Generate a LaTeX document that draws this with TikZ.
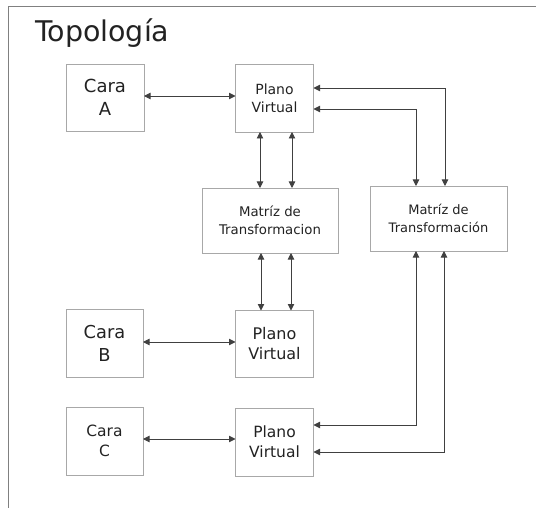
\documentclass[tikz,border=0pt]{standalone}
\usepackage{fontspec}
\setmainfont{DejaVu Sans}
\usetikzlibrary{arrows.meta}
\definecolor{boxgray}{HTML}{A8A8A8}
\definecolor{framegray}{HTML}{808080}
\definecolor{linkgray}{HTML}{404040}
\definecolor{textgray}{HTML}{222222}
\begin{document}
\begin{tikzpicture}[x=1pt,y=-1pt,inner sep=0pt,outer sep=0pt,
blockbox/.style={draw=boxgray,rectangle,line width=0.9pt,align=center,text=textgray},
link/.style={draw=linkgray,line width=0.9pt,{Triangle[length=6.5pt,width=6.5pt]}-{Triangle[length=6.5pt,width=6.5pt]}}]
\useasboundingbox (0,0) rectangle (536,508);

\draw[framegray,line width=1pt] (8,508) -- (8,7) -- (536,7);
\draw (35,42) node[anchor=base west,text=textgray,font=\fontsize{28.5}{34}\selectfont] (title) {Topología};

\draw (105,97.5) node[blockbox,minimum width=78pt,minimum height=67pt,font=\fontsize{18}{23}\selectfont] (caraA) {Cara\\A};
\draw (274.5,98) node[blockbox,minimum width=78pt,minimum height=68pt,font=\fontsize{14}{18}\selectfont] (planoA) {Plano\\Virtual};
\draw (270,220.5) node[blockbox,minimum width=136pt,minimum height=65pt,font=\fontsize{13.3}{18}\selectfont] (matrizL) {Matríz de\\Transformacion};
\draw (438.5,218.5) node[blockbox,minimum width=137pt,minimum height=65pt,font=\fontsize{13}{18}\selectfont] (matrizR) {Matríz de\\Transformación};
\draw (104.5,343) node[blockbox,minimum width=77pt,minimum height=68pt,font=\fontsize{17.8}{23}\selectfont] (caraB) {Cara\\B};
\draw (274.5,344) node[blockbox,minimum width=78pt,minimum height=67pt,font=\fontsize{16}{20}\selectfont] (planoB) {Plano\\Virtual};
\draw (104.5,441) node[blockbox,minimum width=77pt,minimum height=68pt,font=\fontsize{15.5}{20}\selectfont] (caraC) {Cara\\C};
\draw (274.5,442) node[blockbox,minimum width=78pt,minimum height=68pt,font=\fontsize{15.5}{20}\selectfont] (planoC) {Plano\\Virtual};

\draw[link] ([yshift=1.5pt]caraA.east) -- ([yshift=1.5pt]caraA.east -| planoA.west);
\draw[link] ([yshift=1pt]caraB.east) -- ([yshift=1pt]caraB.east -| planoB.west);
\draw[link] ([yshift=2pt]caraC.east) -- ([yshift=2pt]caraC.east -| planoC.west);

\draw[link] ([xshift=-14.5pt]planoA.south) -- ([xshift=-14.5pt]planoA.south |- matrizL.north);
\draw[link] ([xshift=17.5pt]planoA.south) -- ([xshift=17.5pt]planoA.south |- matrizL.north);
\draw[link] ([xshift=-13.5pt]planoB.north) -- ([xshift=-13.5pt]planoB.north |- matrizL.south);
\draw[link] ([xshift=16.5pt]planoB.north) -- ([xshift=16.5pt]planoB.north |- matrizL.south);

\draw[link] ([yshift=10pt]planoA.east) -| ([xshift=6.5pt]matrizR.north);
\draw[link] ([yshift=-11pt]planoA.east) -| ([xshift=-22.5pt]matrizR.north);
\draw[link] ([yshift=17pt]planoC.east) -| ([xshift=-22.5pt]matrizR.south);
\draw[link] ([yshift=-10pt]planoC.east) -| ([xshift=5.5pt]matrizR.south);
\end{tikzpicture}
\end{document}
